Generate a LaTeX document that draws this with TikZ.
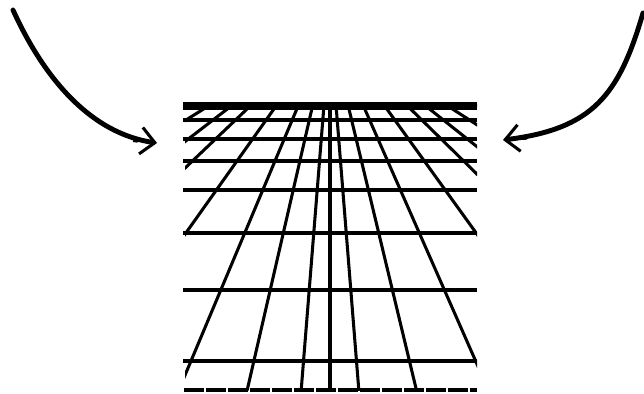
\documentclass[tikz,border=0pt]{standalone}
\usetikzlibrary{arrows.meta}
\begin{document}
\begin{tikzpicture}[x=0.03cm, y=-0.03cm,
          rail/.style={line width=2.6pt, line cap=round},
          rung/.style={line width=3.2pt},
          arr/.style={line width=4.2pt, line cap=round,
                      -{Round Cap[sep=0pt] Straight Barb[length=0.42cm, width=0.8cm, line width=2.6pt, sep=0pt]}}
        ]
  \useasboundingbox (0,0) rectangle (644,394);
  \coordinate (vp) at (330,30);
  \begin{scope}
    \clip (185,103) rectangle (477,390);
    \foreach \k in {-2.0,-1.6,-1.3,-1.05,-0.71,-0.42,-0.23,-0.08,0,0.08,0.24,0.44,0.72,1.02,1.26,1.55,1.95}
      \draw[rail] (vp) -- ++(\k*360,360);
  \end{scope}
  \foreach \y in {104,108,120,139,161,190,233,290,361}
    \draw[rung] (183,\y) -- (477,\y);
  \draw[rung, dash pattern=on 0.6cm off 0.06cm] (184,390) -- (477,390);
  \coordinate (lsrc) at (13,10); \coordinate (ltip) at (157,143);
  \coordinate (rsrc) at (643,13); \coordinate (rtip) at (503,140);
  \draw[arr] (lsrc) .. controls (42,74) and (88,133) .. (ltip);
  \draw[arr] (rsrc) .. controls (619,95) and (593,129) .. (rtip);
\end{tikzpicture}
\end{document}
